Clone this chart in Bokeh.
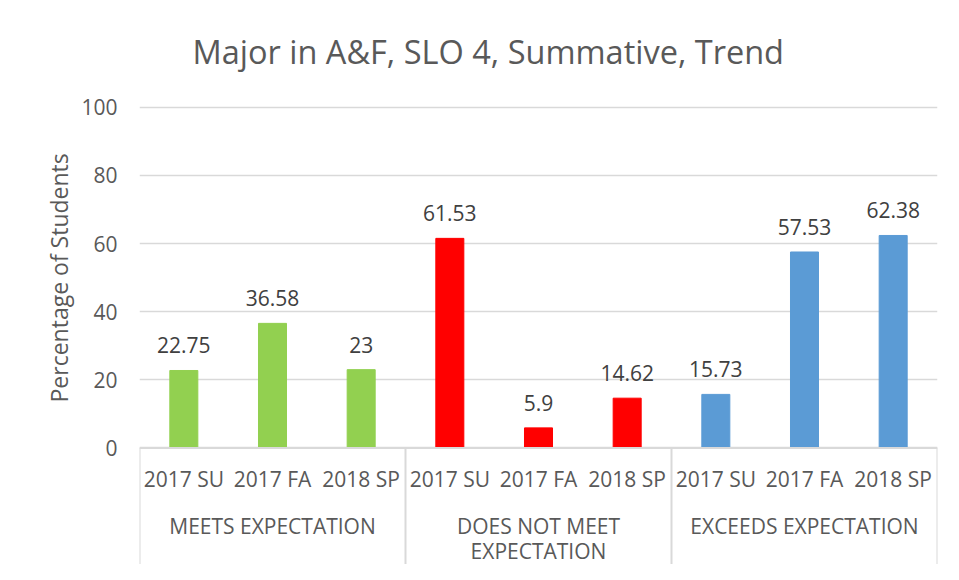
from bokeh.plotting import figure
from bokeh.models import ColumnDataSource, FactorRange, Range1d, FixedTicker, Title
from bokeh.core.properties import value
from bokeh.embed import file_html
from bokeh.resources import INLINE

# ---- data ----
title_text = "Major in A&F, SLO 4, Summative, Trend"
y_label = "Percentage of Students"
groups = ["MEETS EXPECTATION", "DOES NOT MEET EXPECTATION", "EXCEEDS EXPECTATION"]
group_lines = [["MEETS EXPECTATION"], ["DOES NOT MEET", "EXPECTATION"], ["EXCEEDS EXPECTATION"]]
terms = ["2017 SU", "2017 FA", "2018 SP"]
meets = [22.75, 36.58, 23]
does_not_meet = [61.53, 5.9, 14.62]
exceeds = [15.73, 57.53, 62.38]
group_colors = ["#92D050", "#FF0000", "#5B9BD5"]
y_ticks = [0, 20, 40, 60, 80, 100]

FONT = "Open Sans"
TXT = "#595959"
GRID = "#D9D9D9"

series = [meets, does_not_meet, exceeds]
factors, tops, colors, labels, subs = [], [], [], [], []
for g, vals, c in zip(groups, series, group_colors):
    for t, v in zip(terms, vals):
        factors.append((g, t))
        tops.append(v)
        colors.append(c)
        labels.append(f"{v:g}")
        subs.append(t)

src = ColumnDataSource(dict(x=factors, top=tops, color=colors, label=labels,
                            zero=[0] * len(factors), sub=subs))

y_min, y_max = -34.2, 102.0
x_range = FactorRange(*factors, factor_padding=0, group_padding=0, range_padding=0)

p = figure(width=943, height=564, x_range=x_range, y_range=Range1d(y_min, y_max),
           output_backend="svg", toolbar_location=None,
           min_border_left=139, min_border_right=6, min_border_top=99, min_border_bottom=0)
p.outline_line_color = None
p.background_fill_color = "white"
p.border_fill_color = "white"

p.title.text = title_text
p.title.text_font = FONT
p.title.text_font_size = "32.5px"
p.title.text_font_style = "normal"
p.title.text_color = TXT
p.title.align = "left"
p.title.offset = 53
p.title.standoff = 53

# axes
p.xaxis.visible = False
p.xgrid.visible = False
yax = p.yaxis[0]
yax.ticker = FixedTicker(ticks=y_ticks)
yax.axis_line_color = None
yax.major_tick_line_color = None
yax.minor_tick_line_color = None
yax.major_tick_out = 0
yax.major_tick_in = 0
yax.major_label_standoff = 22
yax.major_label_text_font = FONT
yax.major_label_text_font_size = "21px"
yax.major_label_text_color = TXT
p.ygrid.ticker = FixedTicker(ticks=y_ticks)
p.ygrid.grid_line_color = GRID
p.ygrid.grid_line_width = 1.5

# y axis title (placed alongside the 0-100 span)
p.add_layout(Title(text=y_label, align="left", offset=162, standoff=8,
                   text_font=FONT, text_font_size="23px", text_font_style="normal",
                   text_color=TXT), "left")

# bars
p.vbar(x="x", top="top", width=0.316, color="color", source=src)

# data labels
p.text(x="x", y="top", text="label", source=src, text_font=value(FONT),
       text_font_size="21px", text_color="#404040", text_align="center",
       text_baseline="alphabetic", y_offset=-25)

# category axis: baseline and group separators
left_edge = (groups[0], terms[0], -0.5)
right_edge = (groups[-1], terms[-1], 0.5)
p.segment(x0=[left_edge], y0=[0], x1=[right_edge], y1=[0], line_color=GRID, line_width=2)
sep_x = [(g, terms[0], -0.5) for g in groups] + [right_edge]
p.segment(x0=sep_x, y0=[0] * len(sep_x), x1=sep_x, y1=[y_min] * len(sep_x),
          line_color=GRID, line_width=2)

# sub-category labels
p.text(x="x", y="zero", text="sub", source=src,
       text_font=value(FONT), text_font_size="21px", text_color=TXT,
       text_align="center", text_baseline="alphabetic", y_offset=31)

# group labels (wrapped lines)
gx, gt, goff = [], [], []
for g, lines in zip(groups, group_lines):
    for i, line in enumerate(lines):
        gx.append(g)
        gt.append(line)
        goff.append(78 + 25.5 * i)
gsrc = ColumnDataSource(dict(x=gx, y=[0] * len(gx), text=gt, off=goff))
p.text(x="x", y="y", text="text", source=gsrc, text_font=value(FONT),
       text_font_size="21px", text_color=TXT, text_align="center",
       text_baseline="alphabetic", y_offset="off")

open("out.html", "w").write(file_html(p, INLINE))
